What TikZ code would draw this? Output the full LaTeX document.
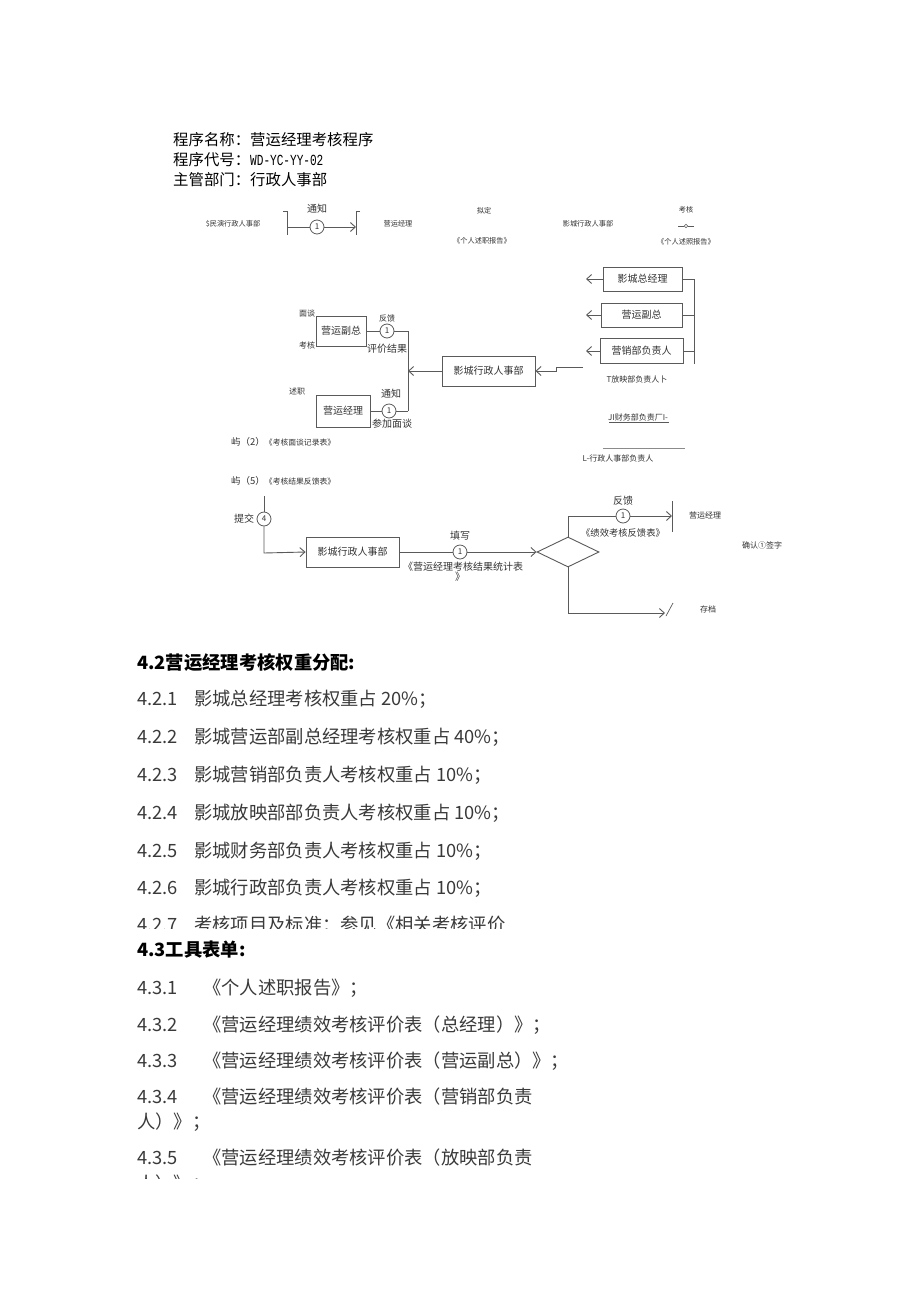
\documentclass[tikz,border=0pt]{standalone}
\usepackage{fontspec}
\setmainfont{Noto Sans CJK SC}
\newfontfamily\monof{Liberation Mono}
\usetikzlibrary{arrows.meta,shapes.geometric}
\definecolor{lc}{HTML}{5A5A5A}
\definecolor{tc}{HTML}{333333}
\definecolor{bc}{HTML}{3A3A3A}
\begin{document}
\begin{tikzpicture}[x=1pt,y=-1pt,
  ln/.style={draw=lc, line width=0.9pt},
  ar/.style={-{Straight Barb[length=5pt,width=9pt]}},
  bx/.style={draw=lc, line width=0.9pt, rectangle, inner sep=0pt, font=\fontsize{10}{12}\selectfont, text=tc},
  cn/.style={circle, draw=lc, line width=0.8pt, inner sep=0pt, minimum size=14pt, font=\fontsize{8}{9}\selectfont, text=tc},
  lb/.style={inner sep=0pt, font=\fontsize{10}{12}\selectfont, text=tc},
  sm/.style={inner sep=0pt, font=\fontsize{8}{10}\selectfont, text=tc},
  xs/.style={inner sep=0pt, font=\fontsize{7.2}{9}\selectfont, text=tc},
  hd/.style={inner sep=0pt, anchor=west, font=\fontsize{15.4}{18}\selectfont, text=black},
  bt/.style={inner sep=0pt, anchor=west, font=\fontsize{18.3}{22}\selectfont, text=bc},
]
\fill[white] (0,0) rectangle (920,1301);
\path[use as bounding box] (0,0) rectangle (920,1301);

% ---------- header ----------
\node[hd] (h1) at (173,140) {程序名称：营运经理考核程序};
\node[hd] (h2) at (173,160) {程序代号：\scalebox{0.72}[1]{\monof WD-YC-YY-02}};
\node[hd] (h3) at (173,180) {主管部门：行政人事部};

% ---------- top row ----------
\node[xs] (t1) at (233,224) {\$民演行政人事部};
\coordinate (bl0) at (283,211);
\coordinate (bl1) at (287,211);
\coordinate (bl2) at (287,235);
\coordinate (bl3) at (287,227);
\draw[ln] (bl0) -- (bl1) -- (bl2);
\node[cn] (c0) at (317,227) {1};
\node[lb] (t0) at (317,209) {通知};
\coordinate (br0) at (360,211);
\coordinate (br1) at (356,211);
\coordinate (br2) at (356,235);
\coordinate (br3) at (356,227);
\draw[ln] (br0) -- (br1) -- (br2);
\draw[ln] (bl3) -- (c0);
\draw[ln,ar] (c0) -- (br3);
\node[xs] (t2) at (398,224) {营运经理};
\node[xs] (t3) at (484,211) {拟定};
\node[xs] (t4) at (482,241) {《个人述职报告》};
\node[xs] (t5) at (588,224) {影城行政人事部};
\node[xs] (t6) at (686,210) {考核};
\node[circle, draw=lc, line width=0.5pt, inner sep=0pt, minimum size=3.5pt] (t7) at (686,226) {};
\coordinate (t7a) at (678,226);
\coordinate (t7b) at (694,226);
\draw[draw=lc, line width=0.6pt] (t7a) -- (t7.west) (t7.east) -- (t7b);
\node[xs] (t8) at (686,242) {《个人述照报告》};

% ---------- middle: right group ----------
\node[bx, minimum width=79pt, minimum height=24pt] (r1) at (642.5,279) {影城总经理};
\node[bx, minimum width=81pt, minimum height=24pt] (r2) at (641.5,315) {营运副总};
\node[bx, minimum width=83pt, minimum height=25pt] (r3) at (641.5,351) {营销部负责人};
\coordinate (a1) at (586,279);
\coordinate (a2) at (586,315);
\coordinate (a3) at (586,351);
\draw[ln,ar] (r1.west) -- (a1);
\draw[ln,ar] (r2.west) -- (a2);
\draw[ln,ar] (r3.west) -- (a3);
\coordinate (b1) at (694,279);
\coordinate (b2) at (694,315);
\coordinate (b3) at (694,351);
\coordinate (b4) at (694,364);
\draw[ln] (r1.east) -- (b1) -- (b4);
\draw[ln] (r2.east) -- (b2);
\draw[ln] (r3.east) -- (b3);
\node[sm] (r4) at (637,379) {T放映部负责人卜};
\node[sm] (r5) at (638,417) {JI财务部负责厂I-};
\coordinate (u5a) at (609,422);
\coordinate (u5b) at (669,422);
\draw[draw=lc, line width=0.6pt] (u5a) -- (u5b);
\coordinate (hl1) at (603,448);
\coordinate (hl2) at (685,448);
\draw[draw=lc!70, line width=0.6pt] (hl1) -- (hl2);
\node[sm] (r6) at (618,458) {L-行政人事部负责人};

% ---------- middle: centre box ----------
\node[bx, minimum width=93pt, minimum height=30pt] (m1) at (488.5,371) {影城行政人事部};
\coordinate (j0) at (583,367);
\coordinate (j1) at (556,367);
\coordinate (j2) at (556,371);
\draw[ln,ar] (j0) -- (j1) -- (j2) -- (m1.east);

% ---------- middle: left part ----------
\coordinate (lv0) at (408,331);
\coordinate (lv1) at (408,371);
\coordinate (lv2) at (408,411);
\draw[ln] (lv0) -- (lv2);
\draw[ln,ar] (m1.west) -- (lv1);
\node[bx, minimum width=50pt, minimum height=30pt] (l1) at (341,331) {营运副总};
\node[cn] (c1) at (387,331) {1};
\draw[ln] (lv0) -- (c1) -- (l1.east);
\node[bx, minimum width=54pt, minimum height=32pt] (l2) at (343,411) {营运经理};
\node[cn] (c2) at (389,411) {1};
\draw[ln] (lv2) -- (c2) -- (l2.east);
\node[sm] (p1) at (307,313) {面谈};
\node[sm] (p2) at (307,345) {考核};
\node[sm] (p3) at (387,318) {反馈};
\node[lb] (p4) at (387,349) {评价结果};
\node[sm] (p5) at (297,391) {述职};
\node[lb] (p6) at (391,394) {通知};
\node[lb] (p7) at (392,424) {参加面谈};

% ---------- form labels ----------
\node[inner sep=0pt, anchor=west, text=tc] (n1) at (231,442)
  {\fontsize{9.5}{11}\selectfont 屿（2）\fontsize{7.8}{9}\selectfont《考核面谈记录表》};
\node[inner sep=0pt, anchor=west, text=tc] (n2) at (231,481)
  {\fontsize{9.5}{11}\selectfont 屿（5）\fontsize{7.8}{9}\selectfont《考核结果反馈表》};

% ---------- bottom flow ----------
\coordinate (v0) at (264,496);
\node[cn] (c3) at (264,519) {4};
\coordinate (v1) at (264,553);
\node[lb] (q1) at (244,519) {提交};
\node[bx, minimum width=93pt, minimum height=30pt] (f1) at (352.5,552) {影城行政人事部};
\draw[ln] (v0) -- (c3);
\draw[ln,ar] (c3) -- (v1) -- (f1.west);
\node[cn] (c4) at (460,552) {1};
\node[lb] (q2) at (460,536) {填写};
\node[lb] (q3) at (463,567) {《营运经理考核结果统计表};
\node[lb] (q4) at (460,577) {》};
\node[draw=lc, line width=0.9pt, diamond, aspect=2.07, minimum width=62pt, minimum height=30pt, inner sep=0pt] (d1) at (568,552) {};
\draw[ln] (f1.east) -- (c4);
\draw[ln,ar] (c4) -- (d1.west);
\coordinate (u1) at (568,516);
\node[cn] (c5) at (623,516) {1};
\coordinate (ue) at (672,516);
\coordinate (bt1) at (672,501);
\coordinate (bt2) at (672,532);
\draw[ln] (d1.north) -- (u1) -- (c5);
\draw[ln,ar] (c5) -- (ue);
\draw[ln] (bt1) -- (bt2);
\node[lb] (q5) at (623,501) {反馈};
\node[lb, font=\fontsize{9.3}{11}\selectfont] (q6) at (623,533) {《绩效考核反馈表》};
\node[sm] (q7) at (705,515) {营运经理};
\node[sm] (q8) at (762,545) {确认①签字};
\coordinate (w1) at (568,613);
\coordinate (w2) at (665,613);
\draw[ln,ar] (d1.south) -- (w1) -- (w2);
\coordinate (s1a) at (666,616);
\coordinate (s1b) at (673,603);
\draw[draw=lc, line width=0.7pt] (s1a) -- (s1b);
\node[sm] (q9) at (708,609) {存档};

% ---------- section 4.2 ----------
\node[bt, text=black, font=\fontsize{18.3}{22}\selectfont\bfseries] (s42) at (137,663) {4.2营运经理考核权重分配:};
\node[bt] (k1) at (137,699) {4.2.1};
\node[bt] (k1t) at (194,699) {影城总经理考核权重占 20\%；};
\node[bt] (k2) at (137,737) {4.2.2};
\node[bt] (k2t) at (194,737) {影城营运部副总经理考核权重占 40\%；};
\node[bt] (k3) at (137,775) {4.2.3};
\node[bt] (k3t) at (194,775) {影城营销部负责人考核权重占 10\%；};
\node[bt] (k4) at (137,813) {4.2.4};
\node[bt] (k4t) at (194,813) {影城放映部部负责人考核权重占 10\%；};
\node[bt] (k5) at (137,851) {4.2.5};
\node[bt] (k5t) at (194,851) {影城财务部负责人考核权重占 10\%；};
\node[bt] (k6) at (137,888) {4.2.6};
\node[bt] (k6t) at (194,888) {影城行政部负责人考核权重占 10\%；};
\begin{scope}
\clip (0,900) rectangle (920,928);
\node[bt] (k7) at (137,925) {4.2.7};
\node[bt] (k7t) at (194,925) {考核项目及标准：参见《相关考核评价};
\end{scope}

% ---------- section 4.3 ----------
\node[bt, text=black, font=\fontsize{18.3}{22}\selectfont\bfseries] (s43) at (137,950) {4.3工具表单:};
\node[bt] (g1) at (137,988) {4.3.1};
\node[bt] (g1t) at (203,988) {《个人述职报告》；};
\node[bt] (g2) at (137,1025) {4.3.2};
\node[bt] (g2t) at (203,1025) {《营运经理绩效考核评价表（总经理）》；};
\node[bt] (g3) at (137,1061) {4.3.3};
\node[bt] (g3t) at (203,1061) {《营运经理绩效考核评价表（营运副总）》；};
\node[bt] (g4) at (137,1097) {4.3.4};
\node[bt] (g4t) at (203,1097) {《营运经理绩效考核评价表（营销部负责};
\node[bt] (g4c) at (137,1122) {人）》；};
\node[bt] (g5) at (137,1158) {4.3.5};
\node[bt] (g5t) at (203,1158) {《营运经理绩效考核评价表（放映部负责};
\begin{scope}
\clip (0,1165) rectangle (920,1178);
\node[bt] (g5c) at (137,1184) {人）》；};
\end{scope}
\end{tikzpicture}
\end{document}
